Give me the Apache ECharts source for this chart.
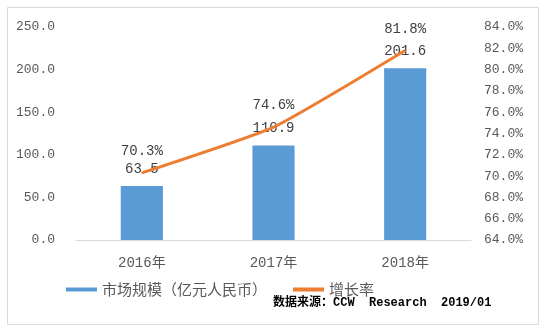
<!DOCTYPE html>
<html><head><meta charset="utf-8">
<script src="https://cdn.jsdelivr.net/npm/echarts@6/dist/echarts.min.js"></script>
<style>html,body{margin:0;padding:0;background:#fff}#c{width:541px;height:329px}</style>
</head><body><div id="c"></div>
<script>
const categories = ['2016年', '2017年', '2018年'];
const marketSize = [63.5, 110.9, 201.6];
const growthRate = [70.3, 74.6, 81.8];
const seriesNames = ['市场规模（亿元人民币）', '增长率'];
const sourceText = '数据来源：CCW  Research  2019/01';

const monoFont = '"Liberation Mono", "Noto Sans CJK SC", monospace';
const chart = echarts.init(document.getElementById('c'));
chart.setOption({
  animation: false,
  backgroundColor: '#fff',
  grid: { left: 76, right: 70, top: 27, bottom: 89 },
  legend: {
    left: 61, top: 277, itemGap: 26, itemWidth: 31, itemHeight: 4,
    textStyle: { color: '#595959', fontSize: 15, fontFamily: '"Noto Sans CJK SC", sans-serif' },
    data: [{ name: seriesNames[0], icon: 'rect' }, { name: seriesNames[1], icon: 'rect', itemStyle: { color: '#ED7D31' } }]
  },
  xAxis: {
    type: 'category', data: categories,
    axisLine: { lineStyle: { color: '#d9d9d9', width: 1 } },
    axisTick: { show: false },
    axisLabel: { color: '#595959', fontSize: 14, fontFamily: monoFont, margin: 16 }
  },
  yAxis: [
    { type: 'value', min: 0, max: 250, interval: 50,
      axisLine: { show: false }, axisTick: { show: false }, splitLine: { show: false },
      axisLabel: { color: '#595959', fontSize: 13, fontFamily: monoFont, margin: 21, formatter: v => v.toFixed(1) } },
    { type: 'value', min: 64, max: 84, interval: 2,
      axisLine: { show: false }, axisTick: { show: false }, splitLine: { show: false },
      axisLabel: { color: '#595959', fontSize: 13, fontFamily: monoFont, margin: 13, formatter: v => v.toFixed(1) + '%' } }
  ],
  graphic: [
    { type: 'rect', left: 5, top: 5, shape: { width: 531, height: 317 }, style: { fill: 'none', stroke: '#d9d9d9', lineWidth: 1 }, silent: true },
    { type: 'text', left: 273, top: 297, style: { text: sourceText, fill: '#000', font: 'bold 12px "Liberation Mono", "Noto Sans CJK SC", monospace' } }
  ],
  series: [
    { name: seriesNames[0], type: 'bar', data: marketSize, barWidth: '32%', yAxisIndex: 0,
      itemStyle: { color: '#5B9BD5' },
      label: { show: true, position: 'top', distance: 10, color: '#404040', fontSize: 14, fontFamily: monoFont, formatter: p => p.value.toFixed(1) } },
    { name: seriesNames[1], type: 'line', data: growthRate, yAxisIndex: 1, smooth: 0.15,
      symbol: 'circle', symbolSize: 1, showSymbol: true,
      lineStyle: { color: '#ED7D31', width: 3 }, itemStyle: { color: '#ED7D31' }, z: 3,
      label: { show: true, position: 'top', distance: 14, color: '#404040', fontSize: 14, fontFamily: monoFont, formatter: p => p.value.toFixed(1) + '%' } }
  ]
});
</script></body></html>
